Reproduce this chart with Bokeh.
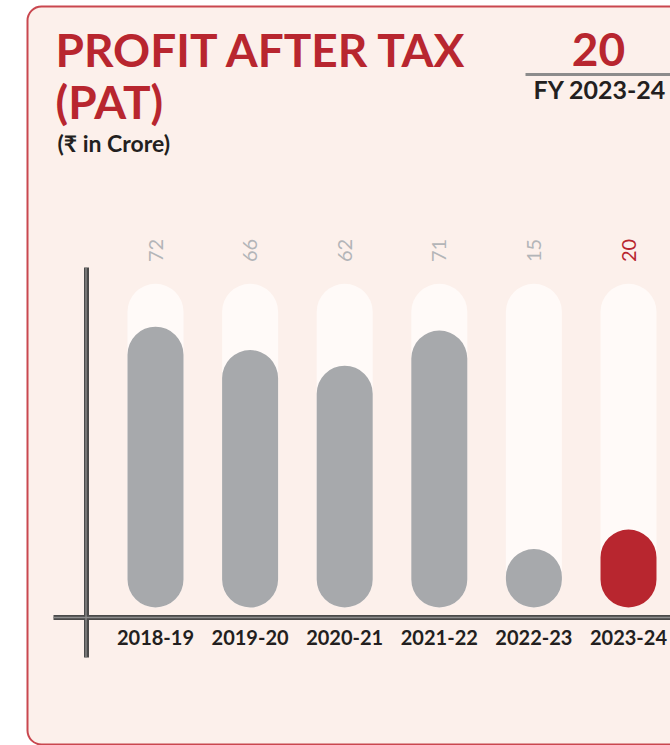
import math
from bokeh.plotting import figure
from bokeh.models import Range1d, FixedTicker, BoxAnnotation, Label, ColumnDataSource
from bokeh.core.properties import value
from bokeh.embed import file_html
from bokeh.resources import INLINE

# ---- data ----
years = ["2018-19", "2019-20", "2020-21", "2021-22", "2022-23", "2023-24"]
pat = [72, 66, 62, 71, 15, 20]
highlight_year = "2023-24"
highlight_value = 20
scale_max = 83  # background track height (in value units)

# ---- layout constants (page pixels) ----
W, H = 670, 745
U = 94.6          # px per category
K = 3.9           # px per value unit
FIRST_CX = 155    # page x of first bar centre
ZERO_PY = 607     # page y of value 0

xs = -FIRST_CX / U
xe = xs + W / U
ye = ZERO_PY / K
ys = ye - H / K

def X(px):
    return xs + px / U

def Y(py):
    return ye - py / K

RED = "#b8262f"
GRAY = "#a7a9ac"
CARD = "#fcf0eb"
TRACK = "#fffaf8"
AXIS = "#4a4a4a"
FONT = value("Lato")

idx = list(range(len(years)))
bar_colors = [RED if y == highlight_year else GRAY for y in years]
lab_colors = [RED if y == highlight_year else "#b3b5b8" for y in years]

src = ColumnDataSource(dict(
    x=idx, year=years, pat=pat, track=[scale_max] * len(years),
    bar_color=bar_colors, lab_color=lab_colors, lab=[str(v) for v in pat],
    laby=[Y(250)] * len(years),
))

p = figure(width=W, height=H, x_range=Range1d(xs, xe), y_range=Range1d(ys, ye),
           output_backend="svg", toolbar_location=None, min_border=0,
           background_fill_color="white", border_fill_color="white",
           outline_line_color=None)
p.grid.visible = False

# card
card = BoxAnnotation(left=X(27), right=X(720), top=Y(6), bottom=Y(744),
                     fill_color=CARD, fill_alpha=1, line_color="#c9474f",
                     line_width=2, line_alpha=1, border_radius=14, level="underlay")
p.add_layout(card)

bw = 56 / U
# tracks
p.vbar(x="x", width=bw, bottom=0, top="track", source=src,
       fill_color=TRACK, line_color=None, border_radius=28)
# bars
p.vbar(x="x", width=bw, bottom=0, top="pat", source=src,
       fill_color="bar_color", line_color=None, border_radius=28)
# value labels
p.text(x="x", y="laby", text="lab", source=src, angle=math.pi / 2,
       text_align="center", text_baseline="middle", text_font=FONT,
       text_font_size="20px", text_color="lab_color")

# x axis
xa = p.xaxis[0]
xa.fixed_location = Y(617)
xa.bounds = (X(53), xe)
xa.ticker = FixedTicker(ticks=idx)
xa.major_label_overrides = {i: y for i, y in zip(idx, years)}
xa.axis_line_width = 5
xa.axis_line_color = AXIS
xa.major_tick_line_color = None
xa.minor_tick_line_color = None
xa.major_label_standoff = 6
xa.major_label_text_font = "Lato"
xa.major_label_text_font_size = "20px"
xa.major_label_text_font_style = "bold"
xa.major_label_text_color = "#231f20"

# y axis
ya = p.yaxis[0]
ya.fixed_location = X(85.5)
ya.bounds = (Y(657), Y(267))
ya.ticker = FixedTicker(ticks=[])
ya.axis_line_width = 5
ya.axis_line_color = AXIS
ya.major_tick_line_color = None
ya.minor_tick_line_color = None
ya.major_label_text_font_size = "0px"

# bevel highlights on the axis lines
p.segment(x0=[X(53), X(85.5)], y0=[Y(617), Y(267)], x1=[xe, X(85.5)], y1=[Y(617), Y(657)],
          line_color="#8e8e8e", line_width=1.3, level="overlay")

# titles
def lab(text, px, py, size, color, bold=True, align="left"):
    shift = 0.42 * size
    p.add_layout(Label(x=X(px), y=Y(py - shift), text=text, text_font="Lato",
                       text_font_size=f"{size}px", text_color=color,
                       text_font_style="bold" if bold else "normal",
                       text_align=align, text_baseline="alphabetic"))

lab("PROFIT AFTER TAX", 55, 68, 46, RED)
lab("(PAT)", 55, 120, 46, RED)
lab("(₹ in Crore)", 57, 152, 23, "#231f20")
lab(str(highlight_value), 598, 68, 46, RED, align="center")
lab("FY " + highlight_year, 533, 99, 25, "#231f20")

p.add_layout(BoxAnnotation(left=X(525), right=X(720), top=Y(72.5), bottom=Y(75.5),
                           fill_color="#8c8c8c", fill_alpha=1, line_color=None))

open("out.html", "w").write(file_html(p, INLINE))
